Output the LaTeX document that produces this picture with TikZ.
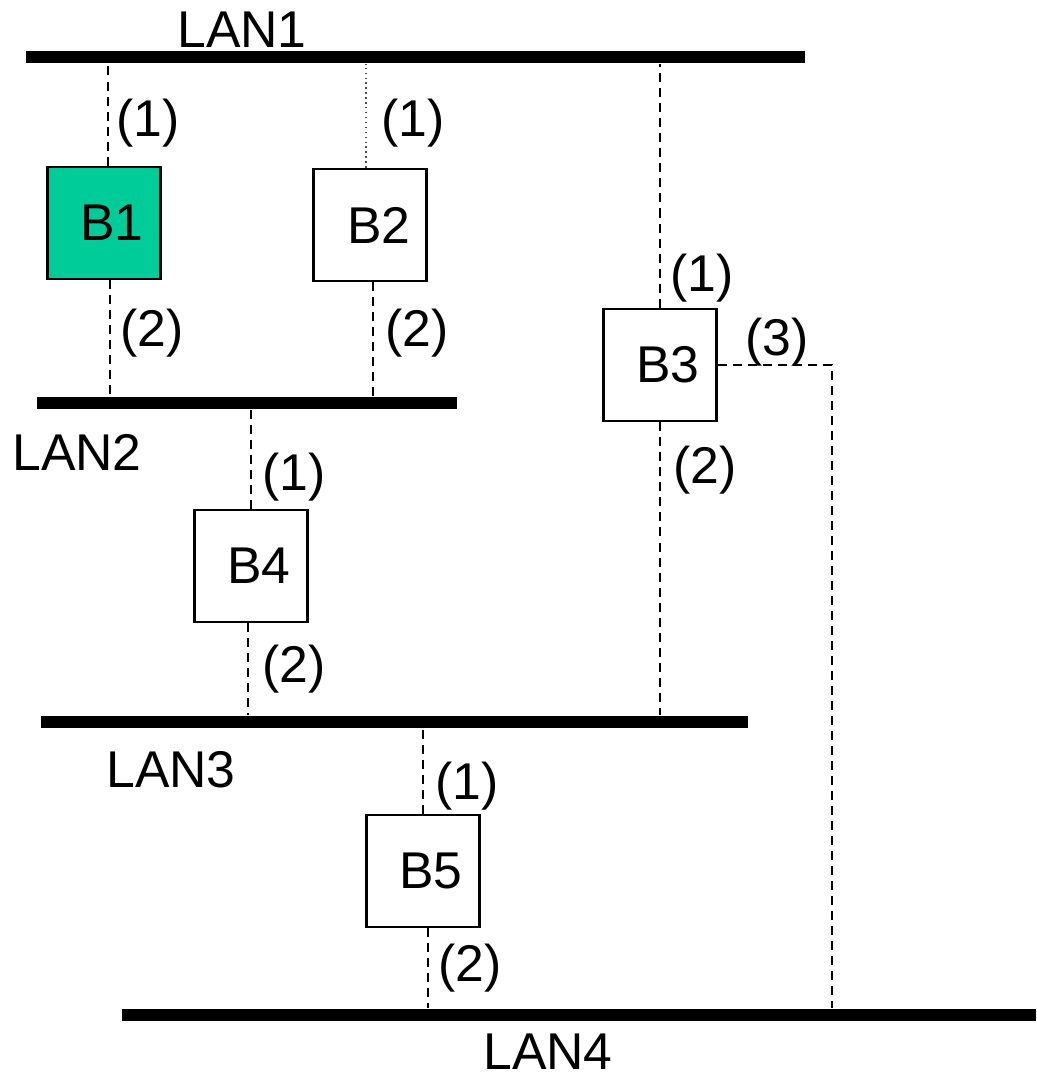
\documentclass[tikz,border=0pt]{standalone}
\usepackage{fontspec}
\setmainfont{Liberation Sans}
\definecolor{bridgegreen}{RGB}{0,204,153}

\begin{document}
\begin{tikzpicture}[x=0.01cm,y=-0.01cm]
\tikzstyle{every node}+=[inner sep=0pt,font=\fontsize{14.7}{17}\selectfont]
\tikzstyle{lan}=[fill=black,minimum height=0.12cm]
\tikzstyle{bridge}=[draw=black,line width=0.8pt,minimum width=1.13cm,minimum height=1.12cm]
\tikzstyle{link}=[line width=0.8pt,dash pattern=on 0.09cm off 0.06cm]
\useasboundingbox (0,0) rectangle (1036,1077);
% LAN segments
\node [lan,minimum width=7.79cm] (lan1) at (415.5,57) {};
\node [lan,minimum width=4.20cm] (lan2) at (247,403) {};
\node [lan,minimum width=7.07cm] (lan3) at (394.5,722) {};
\node [lan,minimum width=9.14cm] (lan4) at (579,1015) {};
\node (lan1t) at (242,30) {LAN1};
\node (lan2t) at (77,452) {LAN2};
\node (lan3t) at (171,770) {LAN3};
\node (lan4t) at (548,1052) {LAN4};
% bridges
\node [bridge,fill=bridgegreen] (b1) at (104,223) {\hspace{0.16cm}B1};
\node [bridge] (b2) at (370,225) {\hspace{0.18cm}B2};
\node [bridge] (b3) at (660,365) {\hspace{0.16cm}B3};
\node [bridge] (b4) at (251,566) {\hspace{0.16cm}B4};
\node [bridge] (b5) at (423,871) {\hspace{0.16cm}B5};
\coordinate (b3turn) at (832,365);
% links
\draw [link] ([xshift=0.04cm]b1.north) -- ([xshift=0.04cm]b1.north |- lan1.south);
\draw [link] ([xshift=0.06cm]b1.south) -- ([xshift=0.06cm]b1.south |- lan2.north);
\draw [line width=0.4pt,densely dotted,black!70] ([xshift=-0.04cm]b2.north) -- ([xshift=-0.04cm]b2.north |- lan1.south);
\draw [link] ([xshift=0.03cm]b2.south) -- ([xshift=0.03cm]b2.south |- lan2.north);
\draw [link] (b3.north) -- (b3.north |- lan1.south);
\draw [link] (b3.south) -- (b3.south |- lan3.north);
\draw [link] (b3.east) -- (b3turn) -- (b3turn |- lan4.north);
\draw [link] (b4.north) -- (b4.north |- lan2.south);
\draw [link] ([xshift=-0.03cm]b4.south) -- ([xshift=-0.03cm]b4.south |- lan3.north);
\draw [link] (b5.north) -- (b5.north |- lan3.south);
\draw [link] ([xshift=0.05cm]b5.south) -- ([xshift=0.05cm]b5.south |- lan4.north);
% port numbers
\node (b1p1) at (148,123) {(1)};
\node (b1p2) at (152,333) {(2)};
\node (b2p1) at (413,123) {(1)};
\node (b2p2) at (417,333) {(2)};
\node (b3p1) at (702,278) {(1)};
\node (b3p3) at (777,342) {(3)};
\node (b3p2) at (705,470) {(2)};
\node (b4p1) at (294,477) {(1)};
\node (b4p2) at (294,669) {(2)};
\node (b5p1) at (467,786) {(1)};
\node (b5p2) at (470,968) {(2)};
\end{tikzpicture}
\end{document}
